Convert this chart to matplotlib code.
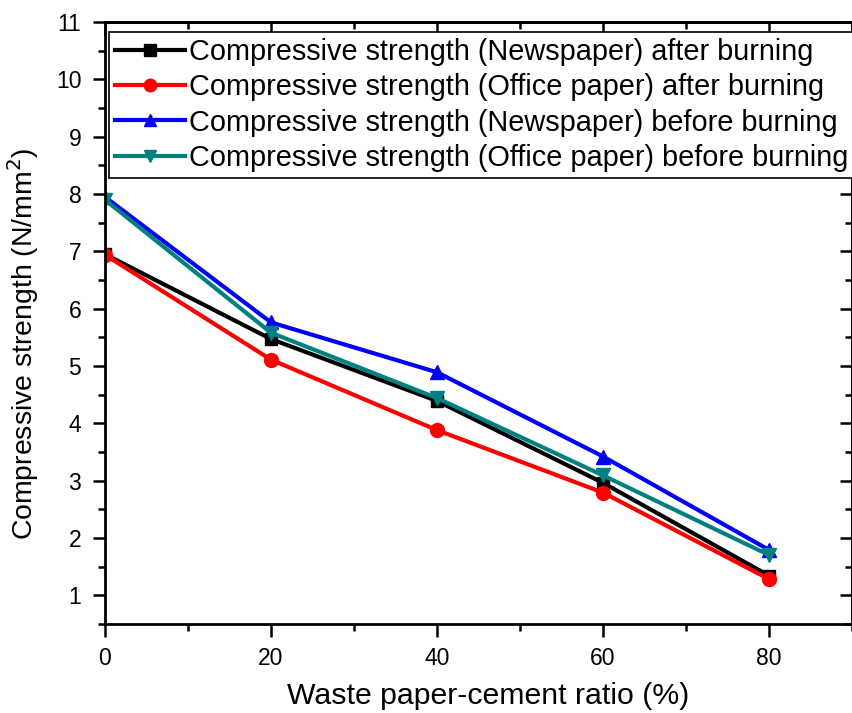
import numpy as np
import matplotlib
matplotlib.use("Agg")
import matplotlib.pyplot as plt
from matplotlib.ticker import MultipleLocator

plt.rcParams['font.family'] = ['Liberation Sans', 'DejaVu Sans']

ratio = [0, 20, 40, 60, 80]
news_after = [6.95, 5.47, 4.39, 2.96, 1.34]
office_after = [6.94, 5.11, 3.88, 2.79, 1.28]
news_before = [7.95, 5.76, 4.89, 3.42, 1.79]
office_before = [7.9, 5.58, 4.44, 3.09, 1.7]

labels = ["Compressive strength (Newspaper) after burning",
          "Compressive strength (Office paper) after burning",
          "Compressive strength (Newspaper) before burning",
          "Compressive strength (Office paper) before burning"]

fig = plt.figure(figsize=(8.53, 7.13), dpi=100)
ax = fig.add_axes([0.123, 0.125, 0.876, 0.844])

ax.plot(ratio, news_after, color='black', marker='s', ms=9, lw=3, label=labels[0])
ax.plot(ratio, office_after, color='red', marker='o', ms=10, lw=3, label=labels[1])
ax.plot(ratio, news_before, color='blue', marker='^', ms=10, lw=3, label=labels[2])
ax.plot(ratio, office_before, color='#008080', marker='v', ms=10, lw=3, label=labels[3])

ax.set_xlim(0, 90)
ax.set_ylim(0.5, 11)
ax.xaxis.set_major_locator(MultipleLocator(20))
ax.xaxis.set_minor_locator(MultipleLocator(10))
ax.yaxis.set_major_locator(MultipleLocator(1))
ax.yaxis.set_minor_locator(MultipleLocator(0.5))
ax.set_xticks([0, 20, 40, 60, 80])

ax.tick_params(which='both', direction='out', width=1.8, labelsize=16.5, top=False, right=False)
ax.tick_params(which='major', length=9, pad=8)
ax.tick_params(which='minor', length=5)

# inward ticks on top and right
axt = ax.secondary_xaxis('top')
axt.xaxis.set_major_locator(MultipleLocator(20))
axt.xaxis.set_minor_locator(MultipleLocator(10))
axt.tick_params(which='both', direction='in', width=1.8, labeltop=False)
axt.tick_params(which='major', length=9)
axt.tick_params(which='minor', length=5)
axr = ax.secondary_yaxis('right')
axr.yaxis.set_major_locator(MultipleLocator(1))
axr.yaxis.set_minor_locator(MultipleLocator(0.5))
axr.tick_params(which='both', direction='in', width=1.8, labelright=False)
axr.tick_params(which='major', length=9)
axr.tick_params(which='minor', length=5)

for s in ax.spines.values():
    s.set_linewidth(2)
axt.spines['top'].set_linewidth(2)
axr.spines['right'].set_linewidth(2)

ax.set_xlabel("Waste paper-cement ratio (%)", fontsize=21.8, va='baseline')
ax.xaxis.set_label_coords(0.513, -0.133)
ax.set_ylabel("Compressive strength (N/mm$^2$)", fontsize=20.4)
ax.yaxis.set_label_coords(-0.085, 0.465)

leg = ax.legend(loc='upper left', bbox_to_anchor=(0.006, 0.983), fontsize=20.8,
                handlelength=2.4, handletextpad=0.15, borderpad=0.2,
                labelspacing=0.25, fancybox=False, edgecolor='black', framealpha=1,
                borderaxespad=0, markerscale=0.9)
leg.get_frame().set_linewidth(1.2)

fig.savefig("out.png", dpi=100)
